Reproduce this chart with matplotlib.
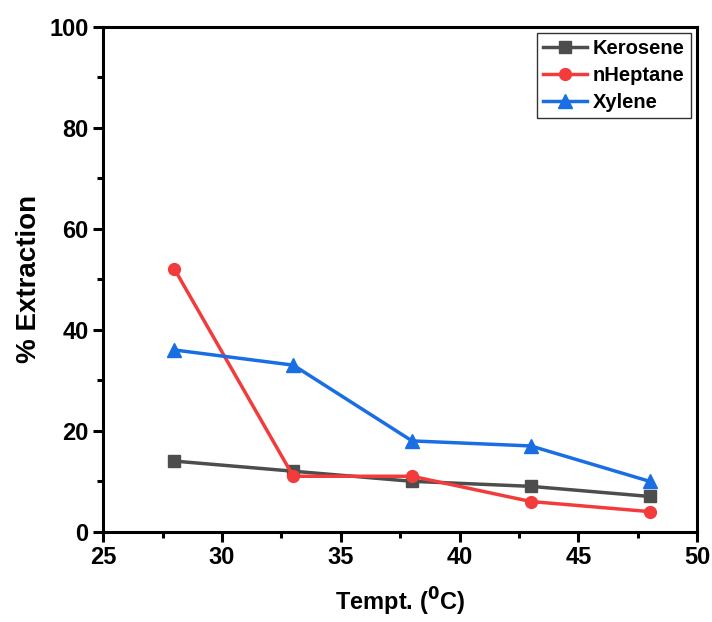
import matplotlib
matplotlib.use("Agg")
import matplotlib.pyplot as plt
from matplotlib.ticker import MultipleLocator

plt.rcParams['font.family'] = ['Liberation Sans', 'DejaVu Sans']
plt.rcParams['font.weight'] = 'bold'

temperature = [28, 33, 38, 43, 48]
kerosene = [14, 12, 10, 9, 7]
nheptane = [52, 11, 11, 6, 4]
xylene = [36, 33, 18, 17, 10]

fig = plt.figure(figsize=(7.12, 6.22), dpi=100)
ax = fig.add_axes([0.145, 0.145, 0.834, 0.812])

ax.plot(temperature, kerosene, color='#4d4d4d', marker='s', markersize=8,
        linewidth=2.5, label='Kerosene')
ax.plot(temperature, nheptane, color='#f23c3c', marker='o', markersize=8.5,
        linewidth=2.5, label='nHeptane')
ax.plot(temperature, xylene, color='#1a6ee3', marker='^', markersize=9.5,
        linewidth=2.5, label='Xylene')

ax.set_xlim(25, 50)
ax.set_ylim(0, 100)
ax.xaxis.set_major_locator(MultipleLocator(5))
ax.xaxis.set_minor_locator(MultipleLocator(2.5))
ax.yaxis.set_major_locator(MultipleLocator(20))
ax.yaxis.set_minor_locator(MultipleLocator(10))

for side in ['left', 'bottom', 'top', 'right']:
    ax.spines[side].set_linewidth(2.2)
ax.tick_params(which='major', direction='out', length=7, width=2.2,
               labelsize=17, top=False, right=False)
ax.tick_params(which='minor', direction='out', length=4, width=2.2,
               top=False, right=False)

ax.set_xlabel('Tempt. ($\\mathbf{^0}$C)', fontsize=17, fontweight='bold', labelpad=12)
ax.set_ylabel('% Extraction', fontsize=20, fontweight='bold', labelpad=5)

leg = ax.legend(loc='upper right', fontsize=14.5, frameon=True, fancybox=False,
                edgecolor='black', handlelength=2.2, borderaxespad=0.3,
                labelspacing=0.4, handletextpad=0.3, borderpad=0.3)
leg.get_frame().set_linewidth(1.0)
for t in leg.get_texts():
    t.set_fontweight('bold')

fig.savefig('out.png', dpi=100)
